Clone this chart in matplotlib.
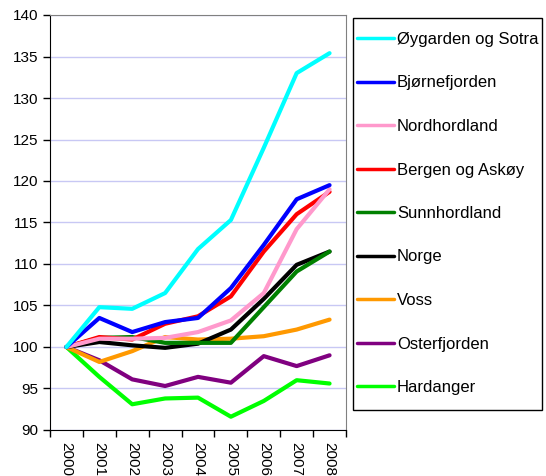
import matplotlib.pyplot as plt
from matplotlib.patches import Rectangle
import numpy as np

plt.rcParams['font.family'] = ['Liberation Sans', 'DejaVu Sans']

years = ['2000', '2001', '2002', '2003', '2004', '2005', '2006', '2007', '2008']

oygarden = [100, 104.8, 104.6, 106.5, 111.8, 115.3, 124.0, 133.0, 135.4]
bjornefjorden = [100, 103.5, 101.8, 103.0, 103.5, 107.1, 112.3, 117.8, 119.5]
nordhordland = [100, 101.0, 101.0, 101.1, 101.8, 103.2, 106.5, 114.2, 119.0]
bergen = [100, 101.2, 100.9, 102.8, 103.7, 106.1, 111.5, 116.0, 118.7]
sunnhordland = [100, 101.1, 101.2, 100.5, 100.5, 100.5, 104.8, 109.1, 111.5]
norge = [100, 100.6, 100.2, 99.9, 100.4, 102.1, 105.8, 109.9, 111.5]
voss = [100, 98.2, 99.5, 101.2, 100.9, 101.0, 101.3, 102.1, 103.3]
osterfjorden = [100, 98.4, 96.1, 95.3, 96.4, 95.7, 98.9, 97.7, 99.0]
hardanger = [100, 96.4, 93.1, 93.8, 93.9, 91.6, 93.5, 96.0, 95.6]

names = ['Øygarden og Sotra', 'Bjørnefjorden', 'Nordhordland', 'Bergen og Askøy',
         'Sunnhordland', 'Norge', 'Voss', 'Osterfjorden', 'Hardanger']
series = [oygarden, bjornefjorden, nordhordland, bergen, sunnhordland,
          norge, voss, osterfjorden, hardanger]
colors = ['#00ffff', '#0000ff', '#ff99cc', '#ff0000', '#008000',
          '#000000', '#ff9900', '#800080', '#00ff00']

W, H = 546, 476
fig = plt.figure(figsize=(W/100, H/100), dpi=100)
ax = fig.add_axes([50/W, 1-430/H, 296/W, 415/H])

x = np.arange(len(years))
# draw in reverse so the top legend entries sit on top
for name, vals, c in reversed(list(zip(names, series, colors))):
    ax.plot(x, vals, color=c, lw=3.0, label=name, solid_capstyle='round', solid_joinstyle='round')

ax.set_xlim(-0.5, 8.5)
ax.set_ylim(90, 140)
ax.set_yticks(np.arange(90, 141, 5))
ax.set_xticks(x)
ax.set_xticklabels(years, rotation=-90, fontsize=11)
ax.set_xticks(np.arange(-0.5, 9, 1), minor=True)
ax.tick_params(axis='x', which='major', length=0, pad=9)
ax.tick_params(axis='x', which='minor', length=5, direction='out', width=1)
ax.tick_params(axis='y', length=5, direction='out', labelsize=11, width=1)
ax.yaxis.grid(True, color='#c8c8f4', lw=1)
ax.set_axisbelow(True)
for s in ['top', 'right']:
    ax.spines[s].set_color('#808080')
for s in ['left', 'bottom']:
    ax.spines[s].set_color('#000000')

# legend frame drawn separately
fig.patches.append(Rectangle((353/W, 1-410/H), 189/W, 392/H, transform=fig.transFigure,
                             fill=False, edgecolor='black', lw=1))

handles, labels = ax.get_legend_handles_labels()
handles, labels = handles[::-1], labels[::-1]
leg = fig.legend(handles, labels, loc='upper left',
                 bbox_to_anchor=(357/W, 1-32/H), fontsize=12,
                 frameon=False, handlelength=2.2, handletextpad=0.2,
                 labelspacing=1.71, borderpad=0, borderaxespad=0)
for h in leg.get_lines():
    h.set_linewidth(2.5)

fig.savefig('out.png', dpi=100)
